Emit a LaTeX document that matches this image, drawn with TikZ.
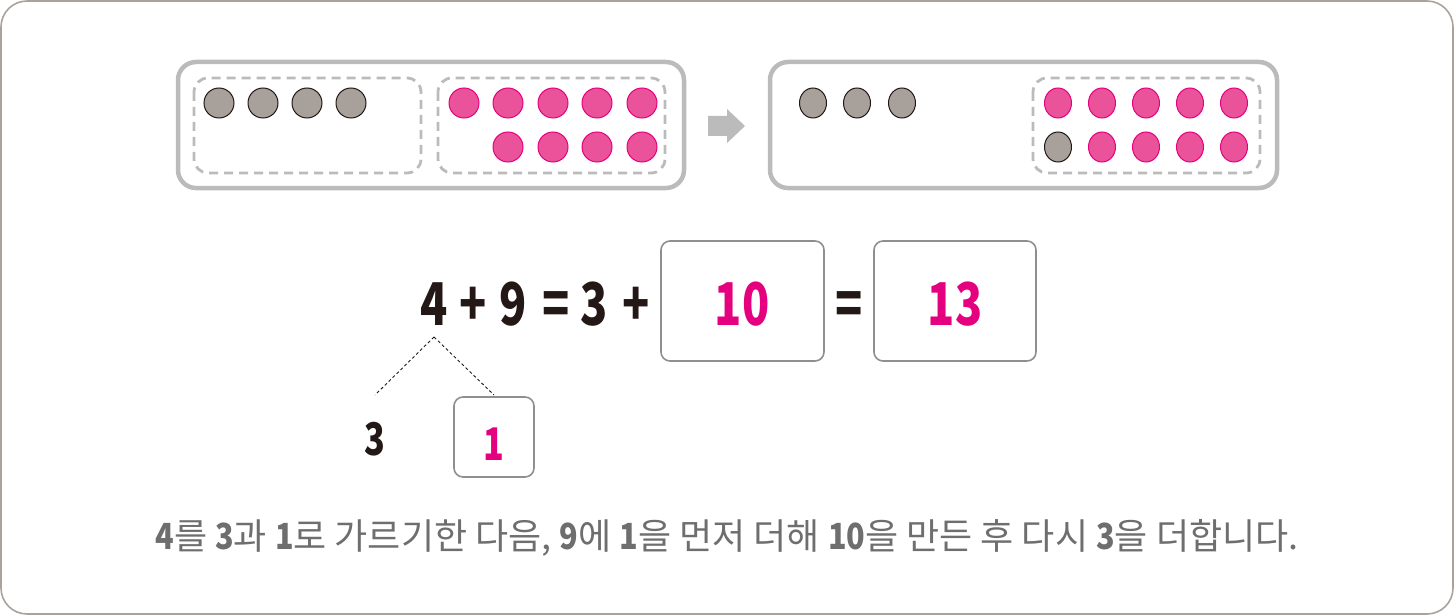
\documentclass[tikz,border=0pt]{standalone}
\usepackage{fontspec}
\setmainfont{Noto Sans}
\newfontfamily\kr{Noto Sans CJK KR}
\newfontfamily\krnum{Noto Sans CJK KR}[FakeStretch=0.85]
\newfontfamily\eqfont{Noto Sans CJK KR}[FakeStretch=0.76]
\usetikzlibrary{shapes.geometric}
\definecolor{frameg}{HTML}{A9A39C}
\definecolor{boxg}{HTML}{BBBBBB}
\definecolor{pinkt}{HTML}{E4007F}
\definecolor{pinkf}{HTML}{EA539A}
\definecolor{greyf}{HTML}{A8A09A}
\definecolor{inkc}{HTML}{231815}
\definecolor{ansg}{HTML}{8F8F8F}
\definecolor{capg}{HTML}{6E6E6E}
\tikzset{
  tray/.style={draw=boxg, line width=4.5pt, rounded corners=18pt},
  grp/.style={draw=boxg, line width=2.8pt, dash pattern=on 9pt off 6pt, rounded corners=14pt},
  pdot/.style={circle, fill=pinkf, draw=pinkt, line width=1pt, minimum size=30pt, inner sep=0pt},
  gdot/.style={circle, fill=greyf, draw=inkc, line width=1pt, minimum size=30pt, inner sep=0pt},
  pedot/.style={ellipse, fill=pinkf, draw=pinkt, line width=1pt, minimum width=27pt, minimum height=30pt, inner sep=0pt},
  gedot/.style={ellipse, fill=greyf, draw=inkc, line width=1pt, minimum width=27pt, minimum height=30pt, inner sep=0pt},
  ansbox/.style={draw=ansg, line width=1.6pt, rounded corners=9pt},
  eq/.style={text=inkc, font=\eqfont\bfseries\fontsize{59}{62}\selectfont, inner sep=0pt, anchor=base},
  ans/.style={text=pinkt, font=\eqfont\bfseries\fontsize{59}{62}\selectfont, inner sep=0pt, anchor=base},
  small/.style={text=inkc, font=\eqfont\bfseries\fontsize{45}{47}\selectfont, inner sep=0pt, anchor=base},
  smallans/.style={text=pinkt, font=\eqfont\bfseries\fontsize{45}{47}\selectfont, inner sep=0pt, anchor=base},
  split/.style={draw=inkc, line width=0.9pt, dash pattern=on 3pt off 2.5pt},
}
\begin{document}
\begin{tikzpicture}[x=1pt,y=-1pt]
\useasboundingbox (0,0) rectangle (1454,615);
\draw[frameg, line width=1.6pt, rounded corners=26pt] (1,1) rectangle (1453,614);
% left tray
\draw[tray] (178,62) rectangle (684,188);
\draw[grp] (194,78) rectangle (421,173);
\draw[grp] (438,78) rectangle (665,173);
\foreach \x [count=\i] in {219,263,307,351} \node[gdot] (lg\i) at (\x,103) {};
\foreach \x [count=\i] in {464,508,553,597,642} \node[pdot] (lpa\i) at (\x,103) {};
\foreach \x [count=\i] in {508,553,597,642} \node[pdot] (lpb\i) at (\x,147) {};
% arrow
\fill[boxg] (708,116) -- (727,116) -- (727,109) -- (745,126) -- (727,143) -- (727,136) -- (708,136) -- cycle;
% right tray
\draw[tray] (770,62) rectangle (1277,188);
\draw[grp] (1033,78) rectangle (1260,173);
\foreach \x [count=\i] in {813,857,902} \node[gedot] (rg\i) at (\x,103) {};
\foreach \x [count=\i] in {1058,1102,1146,1190,1234} \node[pedot] (rpa\i) at (\x,103) {};
\node[gedot] (rgb) at (1058,147) {};
\foreach \x [count=\i] in {1102,1146,1190,1234} \node[pedot] (rpb\i) at (\x,147) {};
% equation
\node[eq] (n4) at (434,325) {4};
\node[eq] (p1) at (473,325) {+};
\node[eq] (n9) at (513,325) {9};
\node[eq] (e1) at (556,325) {=};
\node[eq] (n3) at (594,325) {3};
\node[eq] (p2) at (636,325) {+};
\draw[ansbox] (661,241) rectangle (824,361);
\node[ans] (a10) at (742,325) {10};
\node[eq] (e2) at (849,325) {=};
\draw[ansbox] (874,241) rectangle (1036,361);
\node[ans] (a13) at (955,325) {13};
% split
\coordinate (top) at (434,337);
\coordinate (lft) at (375,395);
\coordinate (rgt) at (494,395);
\draw[split] (top) -- (lft);
\draw[split] (top) -- (rgt);
\node[small] (s3) at (375,455) {3};
\draw[ansbox] (454,397) rectangle (534,477);
\node[smallans] (s1) at (494,460) {1};
% caption
\node[text=capg, inner sep=0pt, font=\kr\fontsize{36}{38}\selectfont] (cap) at (727,538)
 {{\krnum\bfseries 4}를 {\krnum\bfseries 3}과 {\krnum\bfseries 1}로 가르기한 다음, {\krnum\bfseries 9}에 {\krnum\bfseries 1}을 먼저 더해 {\krnum\bfseries 10}을 만든 후 다시 {\krnum\bfseries 3}을 더합니다.};
\end{tikzpicture}
\end{document}
